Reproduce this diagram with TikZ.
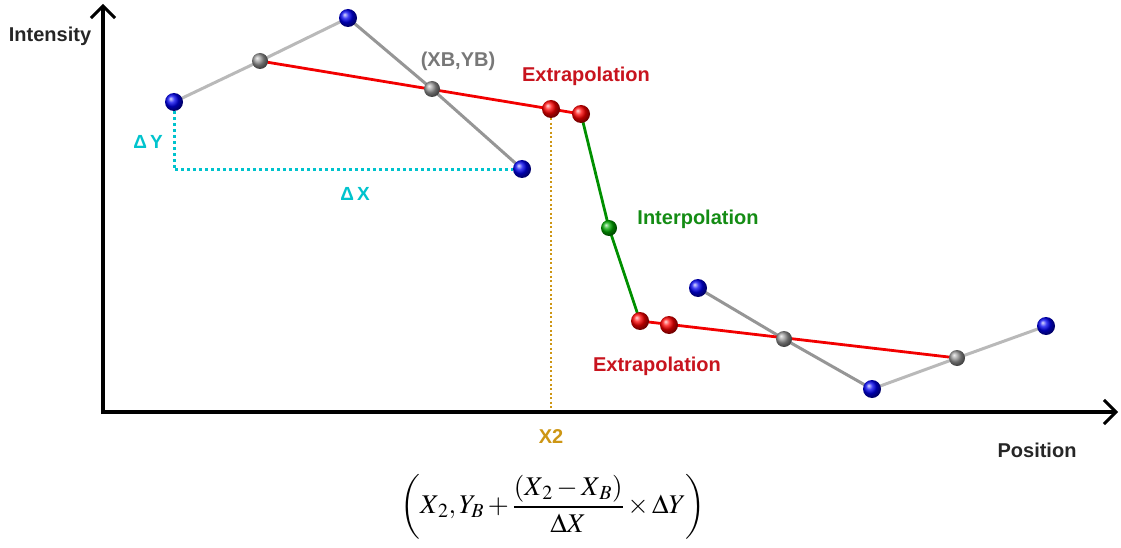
\documentclass[tikz,border=0pt]{standalone}
\usepackage{mathptmx}
\usepackage[no-math]{fontspec}
\setmainfont{Liberation Sans}
\usetikzlibrary{arrows.meta,backgrounds,shadings}
\definecolor{ballblue}{RGB}{0,0,240}
\definecolor{ballred}{RGB}{255,0,0}
\definecolor{ballgray}{RGB}{150,150,150}
\definecolor{ballgreen}{RGB}{0,170,0}
\definecolor{lblred}{RGB}{200,20,30}
\definecolor{lblgreen}{RGB}{20,140,20}
\definecolor{lblcyan}{RGB}{0,195,205}
\definecolor{lblgray}{RGB}{120,120,120}
\definecolor{lblgold}{RGB}{205,150,20}
\definecolor{linegray}{RGB}{150,150,150}
\definecolor{linegraylt}{RGB}{185,185,185}
\tikzset{
  ball/.style={circle,inner sep=0pt,minimum size=18pt,ball color=#1,draw=none},
  smallball/.style={circle,inner sep=0pt,minimum size=16pt,ball color=#1,draw=none},
  lbl/.style={font=\fontsize{20}{24}\selectfont\bfseries,inner sep=0pt},
  graylink/.style={draw=linegray,line width=3pt},
  graylinklt/.style={draw=linegraylt,line width=3pt},
  redlink/.style={draw=red!95!black,line width=2.8pt},
  greenlink/.style={draw=ballgreen!85!black,line width=2.8pt},
  cyandot/.style={draw=lblcyan,line width=3pt,dash pattern=on 3pt off 3pt},
  golddot/.style={draw=lblgold,line width=2pt,dash pattern=on 2pt off 2.5pt},
  axis/.style={draw=black,line width=4pt,-{Straight Barb[length=12pt,width=24pt,line width=3pt]}}
}
\begin{document}
\begin{tikzpicture}[x=1pt,y=-1pt]
\useasboundingbox (0,0) rectangle (1121,548);
% axes
\coordinate (origin) at (103,414);
\coordinate (ytip) at (103,4);
\coordinate (xorig) at (101,412);
\coordinate (xtip) at (1118,412);
\draw[axis] (origin) -- (ytip);
\draw[axis] (xorig) -- (xtip);
\node[lbl,text=black!85] (intensity) at (50,36) {Intensity};
\node[lbl,text=black!85] (position) at (1037,450) {Position};

% balls
\node[ball=ballblue] (b1) at (174,102) {};
\node[ball=ballblue] (b2) at (348,18) {};
\node[ball=ballblue] (b3) at (522,169) {};
\node[ball=ballblue] (b4) at (698,288) {};
\node[ball=ballblue] (b5) at (872,389) {};
\node[ball=ballblue] (b6) at (1046,326) {};
\node[smallball=ballgray] (g1) at (260,61) {};
\node[smallball=ballgray] (g2) at (432,89) {};
\node[smallball=ballgray] (g3) at (784,339) {};
\node[smallball=ballgray] (g4) at (957,358) {};
\node[ball=ballred] (r1) at (551,109) {};
\node[ball=ballred] (r2) at (581,114) {};
\node[ball=ballred] (r3) at (640,321) {};
\node[ball=ballred] (r4) at (669,325) {};
\node[smallball=ballgreen] (gr) at (609,228) {};
\coordinate (corner) at (174,170);
\coordinate (x2foot) at (551,410);

\begin{pgfonlayer}{background}
  \draw[graylinklt] (b1.center) -- (g1.center) -- (b2.center);
  \draw[graylink] (b2.center) -- (g2.center) -- (b3.center);
  \draw[graylink] (b4.center) -- (g3.center) -- (b5.center);
  \draw[graylinklt] (b5.center) -- (g4.center) -- (b6.center);
  \draw[redlink] (g1.center) -- (r2.center);
  \draw[redlink] (r3.center) -- (g4.center);
  \draw[greenlink] (r2.center) -- (gr.center) -- (r3.center);
  \draw[cyandot] (b1.south) -- (corner) -- (b3.west |- corner);
  \draw[golddot] (r1.south) -- (x2foot);
\end{pgfonlayer}

% labels
\node[lbl,text=lblcyan,font=\fontsize{19}{22}\selectfont\bfseries] (dy) at (148,142) {Δ\,Y};
\node[lbl,text=lblcyan,font=\fontsize{19}{22}\selectfont\bfseries] (dx) at (355,194) {Δ\,X};
\node[lbl,text=lblgray] (xbyb) at (458,61) {(XB,YB)};
\node[lbl,text=lblred] (ext1) at (586,76) {Extrapolation};
\node[lbl,text=lblgreen] (interp) at (698,219) {Interpolation};
\node[lbl,text=lblred] (ext2) at (657,366) {Extrapolation};
\node[lbl,text=lblgold] (x2) at (551,437) {X2};

\node[inner sep=0pt] (formula) at (553,507)
  {\fontsize{27}{32}\selectfont $\left(X_{\,2}, Y_{B}+\displaystyle\frac{\left(X_{\,2}-X_{\,B}\right)}{\Delta X}\times\Delta Y\right)$};
\end{tikzpicture}
\end{document}
